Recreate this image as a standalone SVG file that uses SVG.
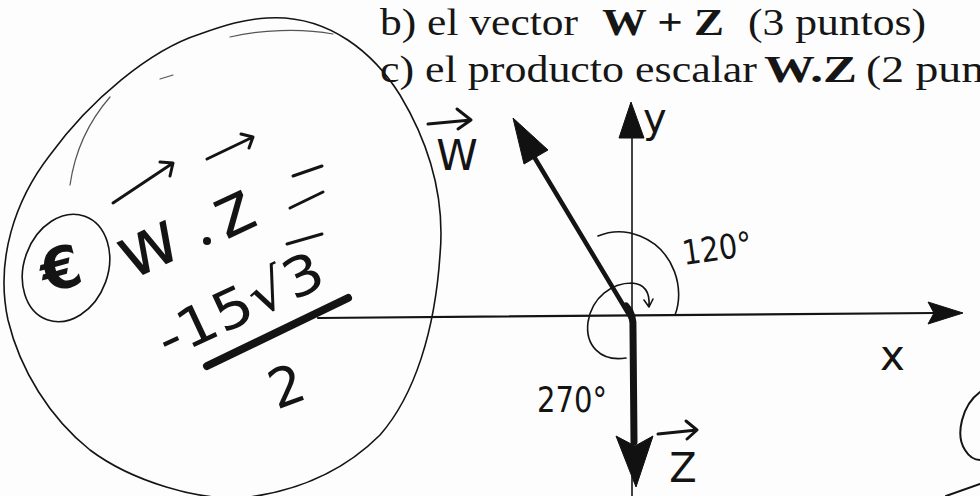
<svg xmlns="http://www.w3.org/2000/svg" width="980" height="496" viewBox="0 0 980 496">
<defs>
<style>
.pr{font-family:"Liberation Serif","Times New Roman",serif;font-size:38px;fill:#161616}
.b{font-weight:bold}
.hw{font-family:"DejaVu Sans","Liberation Sans",sans-serif;fill:#141414}
.ln{fill:none;stroke:#141414;stroke-linecap:round;stroke-linejoin:round}
.thin{stroke-width:1.6}
.faint{fill:none;stroke:#555;stroke-width:1.2;stroke-linecap:round}
.fill{fill:#111;stroke:#111;stroke-width:1;stroke-linejoin:round}
</style>
</defs>
<rect width="980" height="496" fill="#fdfdfd"/>

<g id="header">
<text class="pr" x="380" y="35" textLength="198" lengthAdjust="spacingAndGlyphs">b) el vector</text>
<text class="pr b" x="602" y="35" textLength="122" lengthAdjust="spacingAndGlyphs">W + Z</text>
<text class="pr" x="748" y="35" textLength="178" lengthAdjust="spacingAndGlyphs">(3 puntos)</text>
<text class="pr" x="380" y="82" textLength="377" lengthAdjust="spacingAndGlyphs">c) el producto escalar</text>
<text class="pr b" x="764" y="82" textLength="93" lengthAdjust="spacingAndGlyphs">W.Z</text>
<text class="pr" x="866" y="82" textLength="118" lengthAdjust="spacingAndGlyphs">(2 pun</text>
</g>

<g id="big-circle">
<path class="ln thin" d="M267,18 C330,14 375,55 400,95 C430,145 445,200 440,255 C435,330 415,395 380,435 C345,470 300,490 250,497 C200,503 130,480 90,450 C50,418 20,370 8,320 C-5,260 15,200 50,155 C90,100 150,50 200,34 C225,25 245,19 267,18 Z"/>
<path class="faint" d="M110,97 C90,120 75,150 70,185"/>
<path class="faint" d="M230,37 C260,30 300,28 333,34"/>
<path class="faint" d="M160,79 L173,75"/>
</g>

<g id="answer">
<ellipse class="ln thin" cx="66" cy="268" rx="42" ry="55" transform="rotate(20 66 268)"/>
<text class="hw" x="0" y="0" font-size="58" font-weight="bold" text-anchor="middle" transform="translate(66,288) rotate(-15)">€</text>
<text class="hw" x="0" y="0" font-size="74" text-anchor="middle" transform="translate(158,268) rotate(-25)">w</text>
<path class="ln" stroke-width="3" d="M113,203 L173,163 M160,162 L173,163 L170,176"/>
<circle cx="207" cy="241" r="4" fill="#141414"/>
<text class="hw" x="0" y="0" font-size="72" text-anchor="middle" transform="translate(243,232) rotate(-25)">z</text>
<path class="ln" stroke-width="3" d="M207,159 L253,137 M241,134 L253,137 L249,148"/>
<path class="ln" stroke-width="3" d="M293,176 L322,166 M290,208 L323,192"/>
<text class="hw" x="0" y="0" font-size="54" text-anchor="middle" textLength="178" lengthAdjust="spacingAndGlyphs" transform="translate(248,322) rotate(-25)">-15√3</text>
<path class="ln" stroke-width="3" d="M287,244 L322,234"/>
<path class="ln" stroke-width="8" d="M207,366 L348,298"/>
<text class="hw" x="0" y="0" font-size="54" text-anchor="middle" transform="translate(293,404) rotate(-20)">2</text>
</g>

<g id="axes">
<path class="ln" stroke-width="2.2" d="M318,318 L935,313"/>
<polygon class="fill" points="963,313 928,302 934,313 928,324"/>
<path class="ln" stroke-width="1.6" d="M632,496 L632,132"/>
<polygon class="fill" points="631,102 619,138 644,138"/>
<text class="hw" x="643" y="132" font-size="40">y</text>
<text class="hw" x="880" y="370" font-size="42">x</text>
</g>

<g id="vectors">
<path class="ln" stroke-width="4.5" d="M631,318 L530,150"/>
<polygon class="fill" points="513,118 548,150 524,164"/>
<path class="ln" stroke-width="3" d="M428,124 L471,120 M457,109 L471,120 L458,129"/>
<text class="hw" x="457" y="170" font-size="42" text-anchor="middle">W</text>
<path class="ln" stroke-width="7" d="M626,306 Q634,314 633,330 L634,442"/>
<polygon class="fill" points="636,487 616,436 635,446 653,436"/>
<path class="ln" stroke-width="3" d="M658,434 L697,430 M686,421 L697,430 L687,439"/>
<text class="hw" x="683" y="482" font-size="40" text-anchor="middle">Z</text>
</g>

<g id="angles">
<path class="ln thin" d="M675,315 C685,290 675,250 640,236 C625,230 610,231 598,236"/>
<text class="hw" x="0" y="0" font-size="34" textLength="70" lengthAdjust="spacingAndGlyphs" transform="translate(684,265) rotate(-8)">120°</text>
<path class="ln thin" d="M626,358 C600,362 585,345 588,322 C592,297 612,283 632,283 C645,284 650,293 649,306 M644,300 L649,307 L653,299"/>
<text class="hw" x="537" y="412" font-size="36" textLength="70" lengthAdjust="spacingAndGlyphs">270°</text>
</g>

<g id="margin-marks">
<path class="ln" stroke-width="2" d="M980,392 C962,405 955,435 965,450 C970,458 976,460 980,460"/>
<path class="ln" stroke-width="2" d="M946,496 L980,484"/>
</g>
</svg>
